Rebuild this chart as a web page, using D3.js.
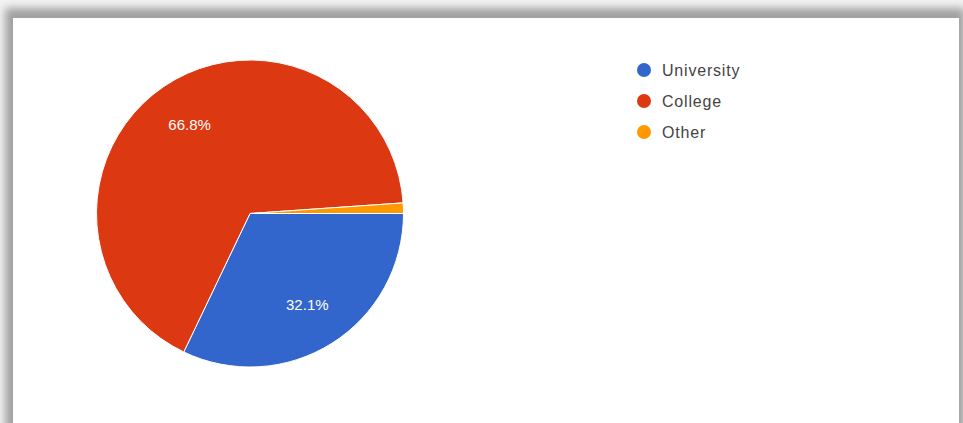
<!DOCTYPE html>
<html><head><meta charset="utf-8">
<script src="https://cdn.jsdelivr.net/npm/d3@7"></script>
<style>html,body{margin:0;padding:0;background:#f2f2f2;overflow:hidden}svg{display:block}</style>
</head><body>
<svg id="c" width="963" height="423"></svg>
<script>
const categories = ["University", "College", "Other"];
const values = [32.1, 66.8, 1.1];
const colors = ["#3366cc", "#dc3912", "#ff9900"];

const svg = d3.select("#c");
const defs = svg.append("defs");
const f = defs.append("filter").attr("id","sh").attr("x","-5%").attr("y","-5%").attr("width","110%").attr("height","110%");
f.append("feGaussianBlur").attr("stdDeviation", 4);

svg.append("rect").attr("width",963).attr("height",423).attr("fill","#f3f3f3");
svg.append("rect").attr("x",5).attr("y",8).attr("width",960).attr("height",460)
  .attr("fill","#a0a0a0").attr("filter","url(#sh)");
svg.append("rect").attr("x",13).attr("y",18).attr("width",946).attr("height",450).attr("fill","#fff");

const cx = 250, cy = 213.5, r = 153.5;
const data = categories.map((c,i)=>({cat:c, v:values[i], col:colors[i]}));
const pie = d3.pie().value(d=>d.v).sort(null).startAngle(Math.PI/2).endAngle(Math.PI/2 + 2*Math.PI);
const arcs = pie(data);
const arc = d3.arc().innerRadius(0).outerRadius(r);
const lab = d3.arc().innerRadius(r*0.7).outerRadius(r*0.7);

const g = svg.append("g").attr("transform",`translate(${cx},${cy})`);
g.selectAll("path").data(arcs).join("path")
  .attr("d",arc).attr("fill",d=>d.data.col).attr("stroke","#fff").attr("stroke-width",1);
g.selectAll("text").data(arcs.filter(d=>d.data.v>5)).join("text")
  .attr("transform",d=>`translate(${lab.centroid(d)})`)
  .attr("text-anchor","middle").attr("dy","0.35em")
  .attr("fill","#fff").attr("font-family","Arial, 'Liberation Sans', sans-serif").attr("font-size",15)
  .text(d=>d.data.v.toFixed(1)+"%");

const leg = svg.append("g").attr("transform","translate(644,70)");
const yL = d3.scalePoint().domain(categories).range([0,62]);
const li = leg.selectAll("g").data(data).join("g").attr("transform",d=>`translate(0,${yL(d.cat)})`);
li.append("circle").attr("r",7).attr("fill",d=>d.col);
li.append("text").attr("x",18).attr("dy","0.35em").attr("fill","#444")
  .attr("font-family","Arial, 'Liberation Sans', sans-serif").attr("font-size",16)
  .attr("letter-spacing",0.8).text(d=>d.cat);
</script>
</body></html>
